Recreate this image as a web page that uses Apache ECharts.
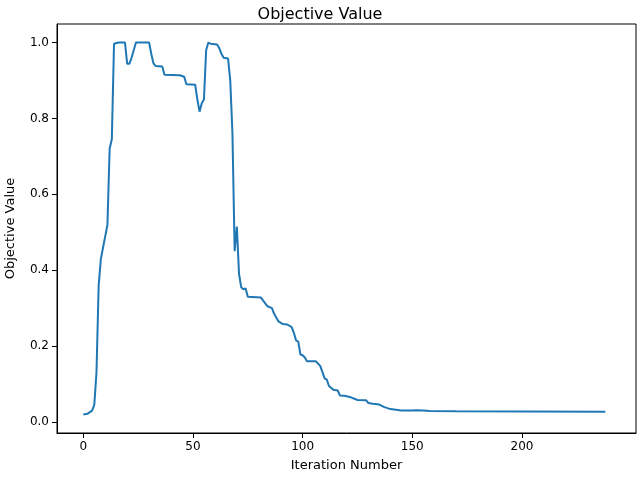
<!DOCTYPE html>
<html><head><meta charset="utf-8">
<script src="https://cdn.jsdelivr.net/npm/echarts@6/dist/echarts.min.js"></script>
<style>html,body{margin:0;padding:0;background:#fff}#c{width:640px;height:480px}</style>
</head><body><div id="c"></div>
<script>
const iterations = [0,2,4,5,6,7,8,9,10,11,12,13,14,16,19,20,21,22,24,30,31,32,33,36,37,44,46,47,51,52,53,54,55,56,57,58,61,62,63,64,66,67,68,69,70,71,72,73,74,75,81,82,84,86,87,89,91,93,95,96,97,98,99,100,101,102,106,108,109,110,111,112,114,116,117,119,122,125,129,130,132,135,137,140,145,150,152,155,158,170,238];
const objective = [0.02,0.022,0.03,0.045,0.13,0.36,0.43,0.46,0.49,0.52,0.72,0.745,0.997,1.0,1.0,0.944,0.944,0.96,1.0,1.0,0.97,0.945,0.938,0.937,0.915,0.914,0.91,0.89,0.889,0.85,0.818,0.84,0.85,0.98,1.0,0.997,0.995,0.985,0.97,0.96,0.958,0.9,0.76,0.45,0.515,0.39,0.355,0.35,0.352,0.33,0.328,0.32,0.305,0.3,0.285,0.265,0.258,0.257,0.25,0.235,0.215,0.212,0.178,0.176,0.17,0.16,0.16,0.148,0.132,0.115,0.112,0.095,0.085,0.083,0.07,0.069,0.065,0.058,0.057,0.05,0.048,0.046,0.04,0.034,0.03,0.03,0.031,0.03,0.029,0.028,0.027];
const xTicks = [0,50,100,150,200];
const yTicks = [0.0,0.2,0.4,0.6,0.8,1.0];
const F = 'DejaVu Sans';
const chart = echarts.init(document.getElementById('c'));
chart.setOption({
  animation:false,
  title:{text:'Objective Value',left:'center',top:2,textStyle:{fontFamily:F,fontSize:16,fontWeight:'normal',color:'#000'}},
  grid:{left:57,right:4,top:24,bottom:47,containLabel:false,outerBoundsMode:'none'},
  xAxis:{type:'value',min:-12,max:252,interval:50,name:'Iteration Number',nameLocation:'middle',nameGap:26,
    nameTextStyle:{fontFamily:F,fontSize:13,color:'#000'},
    axisLine:{onZero:false,lineStyle:{color:'#000'}},axisTick:{show:true,length:5,lineStyle:{color:'#000'},customValues:xTicks},
    axisLabel:{fontFamily:F,fontSize:12,color:'#000',customValues:xTicks,margin:8},splitLine:{show:false}},
  yAxis:{type:'value',min:-0.029,max:1.049,name:'Objective Value',nameLocation:'middle',nameGap:40,
    nameTextStyle:{fontFamily:F,fontSize:13,color:'#000'},
    axisLine:{show:true,onZero:false,lineStyle:{color:'#000'}},axisTick:{show:true,length:5,lineStyle:{color:'#000'},customValues:yTicks},
    axisLabel:{fontFamily:F,fontSize:12,color:'#000',customValues:yTicks,formatter:v=>v.toFixed(1)},splitLine:{show:false}},
  series:[{type:'line',data:iterations.map((x,i)=>[x,objective[i]]),showSymbol:false,lineStyle:{color:'#1f77b4',width:2}}]
});
chart.setOption({graphic:[{type:'rect',shape:{x:57,y:24,width:579,height:409},style:{fill:'none',stroke:'#000',lineWidth:1},silent:true,z:-1}]});
</script></body></html>
